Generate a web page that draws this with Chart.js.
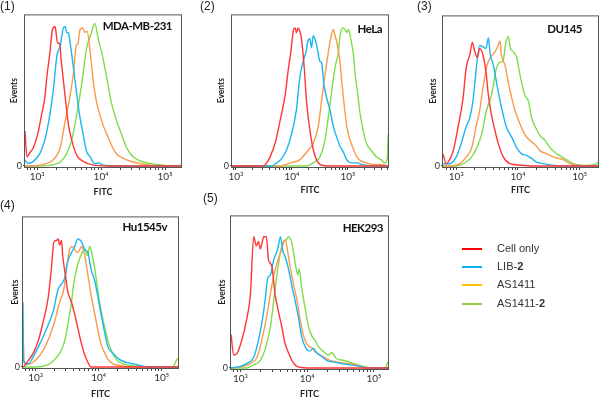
<!DOCTYPE html>
<html>
<head>
<meta charset="utf-8">
<script src="https://cdn.jsdelivr.net/npm/chart.js@4.4.1/dist/chart.umd.min.js"></script>
<style>
  body { margin: 0; width: 600px; height: 400px; overflow: hidden; background: #fff; position: relative; font-family: "Liberation Sans", Arial, sans-serif; }
  canvas { position: absolute; }
  .num { position: absolute; font-size: 12px; line-height: 12px; color: #222; }
  .name { position: absolute; font: bold 11.5px/13px Lato, sans-serif; letter-spacing: -0.5px; color: #111; text-align: right; }
  .key { position: absolute; left: 462px; width: 20px; height: 2px; }
  .keytext { position: absolute; left: 497px; font-size: 11px; line-height: 13px; color: #333; }
</style>
</head>
<body>
<script>
// series names and colours
const seriesNames = ["Cell only", "LIB-<b>2</b>", "AS1411", "AS1411-<b>2</b>"];
const lineColors = ["#ff3636", "#1db6ee", "#f79b4c", "#7fdc4a"];
const keyColors = ["#ff0000", "#00b0f0", "#ffc000", "#92d050"];

const panelNames = ["MDA-MB-231", "HeLa", "DU145", "Hu1545v", "HEK293"];
// x axis: log10(FITC)
const xMin = [2.81, 2.93, 2.785, 2.8, 2.86];
const xMax = [5.25, 5.716, 5.296, 5.26, 5.21];
const decades = [3, 4, 5];

// [log10 FITC, % of max events]
const mdaCell = [[2.81,23],[2.84,6],[2.89,9],[2.94,12],[3.02,23],[3.07,34],[3.12,45],[3.15,58],[3.2,75],[3.24,90],[3.28,92],[3.32,81],[3.35,81],[3.38,68],[3.44,45],[3.49,27],[3.54,17],[3.62,7],[3.72,3],[3.88,0.5],[4.09,0],[5.25,0]];
const mdaLib2 = [[2.81,4],[2.86,1.5],[2.94,3],[3.04,8],[3.12,17],[3.2,34],[3.25,49],[3.31,73],[3.36,79],[3.41,91],[3.44,92],[3.46,88],[3.49,88],[3.51,83],[3.57,64],[3.62,47],[3.67,32],[3.72,21],[3.77,10],[3.83,6],[3.9,1.5],[3.96,2],[4.03,0.5],[4.24,0],[5.25,0]];
const mdaAs = [[2.81,0],[2.89,0],[3.1,1],[3.25,4],[3.36,12],[3.44,30],[3.51,45],[3.57,62],[3.61,79],[3.64,81],[3.67,90],[3.71,91],[3.75,88],[3.78,89],[3.83,75],[3.88,55],[3.93,42],[3.98,34],[4.03,27],[4.09,21],[4.16,14],[4.24,8],[4.35,5],[4.5,2.6],[4.76,0.5],[5.02,0],[5.25,0]];
const mdaAs2 = [[2.81,0],[2.99,0],[3.2,0.4],[3.36,2.6],[3.46,8],[3.54,17],[3.62,34],[3.7,55],[3.77,77],[3.85,88],[3.9,94],[3.96,83],[4.01,75],[4.09,58],[4.16,42],[4.24,30],[4.32,21],[4.4,12],[4.5,6],[4.66,2.6],[4.87,1],[5.13,0.2],[5.25,0.5]];

const helaCell = [[2.93,0],[3.49,0],[3.55,2],[3.61,6],[3.7,15],[3.79,30],[3.88,47],[3.94,65],[3.98,75],[4.03,90],[4.06,91],[4.08,88],[4.11,91],[4.14,89],[4.17,84],[4.22,65],[4.26,43],[4.32,24],[4.38,11],[4.44,4],[4.5,1],[4.62,0],[5.72,0]];
const helaLib2 = [[2.93,0],[3.64,0],[3.73,2],[3.82,5],[3.91,11],[4.0,22],[4.08,37],[4.14,58],[4.2,69],[4.25,75],[4.29,83],[4.32,84],[4.35,78],[4.38,86],[4.41,84],[4.44,80],[4.5,69],[4.53,68],[4.57,54],[4.62,45],[4.68,37],[4.74,26],[4.8,19],[4.86,13],[4.92,9],[4.98,4],[5.07,2],[5.16,2],[5.28,0.6],[5.45,0],[5.72,0]];
const helaAs = [[2.93,0],[3.79,0],[3.97,2],[4.14,4],[4.26,9],[4.38,15],[4.47,26],[4.53,43],[4.59,60],[4.65,75],[4.69,84],[4.74,90],[4.77,86],[4.8,82],[4.85,71],[4.89,56],[4.92,45],[4.98,26],[5.04,17],[5.1,11],[5.16,6],[5.25,3],[5.33,2],[5.45,1],[5.6,1],[5.72,0]];
const helaAs2 = [[2.93,0],[4.26,0],[4.38,2],[4.5,6],[4.59,17],[4.65,32],[4.71,49],[4.77,65],[4.83,75],[4.86,86],[4.91,91],[4.95,90],[4.98,88],[5.01,90],[5.05,84],[5.1,73],[5.13,60],[5.17,49],[5.22,34],[5.28,22],[5.33,15],[5.42,10],[5.51,6],[5.6,4],[5.66,2],[5.7,4],[5.72,21]];

const duCell = [[2.785,8],[2.84,1.5],[2.89,4],[2.95,10],[3.03,26],[3.11,45],[3.16,65],[3.22,74],[3.26,82],[3.3,76],[3.34,72],[3.38,78],[3.43,74],[3.48,63],[3.52,47],[3.57,34],[3.63,23],[3.68,15],[3.76,6],[3.87,1.5],[4.03,0.5],[4.25,0],[5.3,0]];
const duLib2 = [[2.785,1.5],[2.89,1.5],[3.0,6],[3.08,15],[3.16,26],[3.22,32],[3.27,43],[3.33,67],[3.38,80],[3.44,79],[3.48,78],[3.52,85],[3.55,74],[3.6,67],[3.65,56],[3.71,43],[3.76,34],[3.81,26],[3.9,19],[3.98,12],[4.06,8],[4.14,7],[4.22,5],[4.3,2.6],[4.41,1.5],[4.57,0.4],[4.79,0],[5.3,0]];
const duAs = [[2.785,0],[2.89,0],[3.06,1.5],[3.16,6],[3.25,12],[3.32,26],[3.38,37],[3.44,54],[3.5,67],[3.57,73],[3.63,76],[3.68,80],[3.71,83],[3.73,74],[3.79,67],[3.84,56],[3.9,45],[3.95,37],[4.03,28],[4.11,21],[4.19,17],[4.28,14],[4.36,10],[4.47,8],[4.57,6],[4.66,5],[4.74,4],[4.84,1.5],[5.01,0.4],[5.3,0]];
const duAs2 = [[2.785,0],[3.0,0],[3.16,2.6],[3.25,6],[3.33,12],[3.41,21],[3.49,37],[3.57,47],[3.65,65],[3.71,69],[3.76,70],[3.8,81],[3.84,86],[3.88,78],[3.92,76],[3.98,72],[4.03,61],[4.11,47],[4.17,43],[4.22,32],[4.28,26],[4.36,20],[4.44,17],[4.52,12],[4.63,8],[4.71,6],[4.79,4],[4.9,1.5],[5.06,0.4],[5.25,1],[5.3,2.6]];

const huCell = [[2.8,0],[2.83,1],[2.88,4],[2.96,9],[3.04,17],[3.12,30],[3.2,46],[3.25,65],[3.29,83],[3.33,84],[3.36,85],[3.38,81],[3.41,84],[3.43,74],[3.48,59],[3.51,50],[3.57,43],[3.62,35],[3.67,26],[3.73,15],[3.78,8],[3.83,3],[3.88,0],[5.26,0]];
const huLib2 = [[2.8,43],[2.81,4],[2.88,2],[2.96,6.5],[3.04,13],[3.12,20],[3.2,28],[3.28,37],[3.36,52],[3.41,55],[3.46,59],[3.51,70],[3.57,76],[3.62,80],[3.67,85],[3.73,83],[3.78,78],[3.83,76],[3.88,65],[3.94,57],[3.99,46],[4.04,35],[4.1,22],[4.15,13],[4.23,9],[4.33,5],[4.44,3],[4.55,2],[4.65,1],[4.81,0],[5.26,0]];
const huAs = [[2.8,25],[2.82,2],[2.91,2],[3.01,5],[3.12,11],[3.22,20],[3.3,30],[3.38,43],[3.45,52],[3.49,65],[3.54,78],[3.58,80],[3.62,78],[3.67,76],[3.73,80],[3.78,74],[3.83,61],[3.88,48],[3.94,35],[3.99,24],[4.04,15],[4.1,9],[4.15,5],[4.23,2],[4.33,1],[4.55,0],[5.26,0]];
const huAs2 = [[2.8,0],[3.01,0],[3.17,1],[3.28,4],[3.38,9],[3.46,17],[3.51,28],[3.57,43],[3.6,54],[3.65,65],[3.7,72],[3.78,78],[3.82,74],[3.86,80],[3.9,74],[3.94,65],[3.99,50],[4.04,37],[4.1,26],[4.15,17],[4.2,11],[4.28,5],[4.39,2],[4.55,0.6],[4.97,0],[5.18,0],[5.23,4],[5.26,6]];

const hekCell = [[2.86,22],[2.9,8.5],[2.95,9.6],[3.02,18],[3.1,33],[3.15,48],[3.2,86],[3.24,80],[3.27,83],[3.3,78],[3.32,81],[3.35,86],[3.39,86],[3.42,71],[3.47,67],[3.52,48],[3.57,37],[3.62,27],[3.67,16],[3.72,10],[3.77,5],[3.85,1],[4.0,0],[5.21,0]];
const hekLib2 = [[2.86,0],[3.0,1],[3.1,3],[3.2,7],[3.27,18],[3.32,29],[3.37,44],[3.41,59],[3.45,61],[3.5,71],[3.56,78],[3.6,86],[3.64,76],[3.67,73],[3.72,65],[3.77,54],[3.82,44],[3.87,33],[3.92,20],[3.98,13],[4.04,11],[4.09,13],[4.14,10],[4.22,7.5],[4.29,5],[4.39,4],[4.49,3],[4.64,2],[4.79,1],[4.89,0],[5.21,0]];
const hekAs = [[2.86,0],[3.05,1],[3.15,3],[3.25,7],[3.32,18],[3.4,35],[3.47,54],[3.55,69],[3.62,78],[3.67,84],[3.71,76],[3.75,65],[3.8,54],[3.85,44],[3.89,33],[3.94,22],[3.99,16],[4.07,13],[4.14,10],[4.24,7.5],[4.34,5],[4.44,4],[4.59,3],[4.74,2],[4.89,0],[5.21,0]];
const hekAs2 = [[2.86,0],[3.1,0],[3.2,2],[3.3,5],[3.37,12],[3.45,27],[3.51,48],[3.56,65],[3.6,76],[3.65,83],[3.69,84],[3.72,86],[3.77,82],[3.82,69],[3.86,61],[3.88,65],[3.92,52],[3.97,39],[4.02,27],[4.07,21],[4.12,18],[4.17,14],[4.24,11],[4.32,8.5],[4.37,10],[4.44,6],[4.54,5],[4.69,3],[4.84,1],[4.99,0],[5.16,0],[5.2,3],[5.21,4]];

const panelData = [
  [mdaCell, mdaLib2, mdaAs, mdaAs2],
  [helaCell, helaLib2, helaAs, helaAs2],
  [duCell, duLib2, duAs, duAs2],
  [huCell, huLib2, huAs, huAs2],
  [hekCell, hekLib2, hekAs, hekAs2]
];

// plot boxes on the page
const boxes = [
  {left: 25, top: 12, right: 181, bottom: 167, yw: 16, xh: 30, num: [0, 0], nameRight: 172, nameTop: 19},
  {left: 232, top: 12, right: 388, bottom: 167, yw: 16, xh: 28, num: [200, 0], nameRight: 382, nameTop: 22},
  {left: 443, top: 13, right: 598, bottom: 167, yw: 15, xh: 28, num: [417, 0], nameRight: 582, nameTop: 22},
  {left: 23, top: 214, right: 178, bottom: 368, yw: 13, xh: 31, num: [0, 199], nameRight: 167, nameTop: 220},
  {left: 231, top: 213, right: 388, bottom: 369, yw: 14, xh: 30, num: [203, 192], nameRight: 383, nameTop: 221}
];
const padT = 4, padR = 4;
const sup = {3: "\u00b3", 4: "\u2074", 5: "\u2075"};

const boxBorder = {
  id: "boxBorder",
  beforeDatasetsDraw(chart) {
    const a = chart.chartArea, ctx = chart.ctx;
    ctx.save();
    ctx.strokeStyle = "#555";
    ctx.lineWidth = 1;
    ctx.strokeRect(a.left - 0.5, a.top + 0.5, a.right - a.left + 1, a.bottom - a.top);
    ctx.restore();
  }
};

boxes.forEach((b, i) => {
  const cv = document.createElement("canvas");
  cv.width = b.right - b.left + b.yw + padR;
  cv.height = b.bottom - b.top + padT + b.xh;
  cv.style.left = (b.left - b.yw) + "px";
  cv.style.top = (b.top - padT) + "px";
  document.body.appendChild(cv);

  const minor = [];
  for (let n = 2; n <= 5; n++) {
    for (let k = 1; k <= 9; k++) {
      const v = n + Math.log10(k);
      if (v >= xMin[i] && v <= xMax[i]) minor.push({value: v});
    }
  }

  new Chart(cv, {
    type: "line",
    data: {
      datasets: panelData[i].map((d, j) => ({
        label: seriesNames[j],
        data: d,
        borderColor: lineColors[j],
        borderWidth: 1.4,
        pointRadius: 0,
        cubicInterpolationMode: "monotone",
        fill: false
      }))
    },
    options: {
      responsive: false,
      animation: false,
      devicePixelRatio: 1,
      layout: {padding: {top: padT, right: padR, left: 0, bottom: 0}},
      plugins: {legend: {display: false}, tooltip: {enabled: false}},
      scales: {
        x: {
          type: "linear",
          min: xMin[i],
          max: xMax[i],
          afterBuildTicks: s => { s.ticks = minor; },
          afterFit: s => { s.height = b.xh; },
          border: {display: false},
          grid: {drawOnChartArea: false, color: "#444", tickLength: 3},
          ticks: {
            autoSkip: false, maxRotation: 0, minRotation: 0, padding: 1,
            color: "#333", font: {family: "Lato", size: 10},
            callback: v => decades.includes(v) ? "10" + sup[v] : ""
          },
          title: {display: true, text: "FITC", color: "#222", padding: 0, font: {family: "Lato", size: 9, weight: "bold"}}
        },
        y: {
          min: -0.7,
          max: 100,
          afterBuildTicks: s => { s.ticks = [{value: 0}]; },
          afterFit: s => { s.width = b.yw; },
          border: {display: false},
          grid: {drawOnChartArea: false, color: "#444", tickLength: 2},
          ticks: {padding: 1, color: "#333", font: {family: "Lato", size: 9}},
          title: {display: true, text: "Events", color: "#222", padding: 0, font: {family: "Lato", size: 8.5, weight: "bold"}}
        }
      }
    },
    plugins: [boxBorder]
  });

  const num = document.createElement("div");
  num.className = "num";
  num.style.left = b.num[0] + "px";
  num.style.top = b.num[1] + "px";
  num.textContent = "(" + (i + 1) + ")";
  document.body.appendChild(num);

  const nm = document.createElement("div");
  nm.className = "name";
  nm.style.right = (600 - b.nameRight) + "px";
  nm.style.top = b.nameTop + "px";
  nm.textContent = panelNames[i];
  document.body.appendChild(nm);
});

// legend
const keyRows = [249, 267, 285, 304];
seriesNames.forEach((s, j) => {
  const ln = document.createElement("div");
  ln.className = "key";
  ln.style.top = (keyRows[j] - 1) + "px";
  ln.style.background = keyColors[j];
  document.body.appendChild(ln);
  const tx = document.createElement("div");
  tx.className = "keytext";
  tx.style.top = (keyRows[j] - 7) + "px";
  tx.innerHTML = s;
  document.body.appendChild(tx);
});
</script>
</body>
</html>
